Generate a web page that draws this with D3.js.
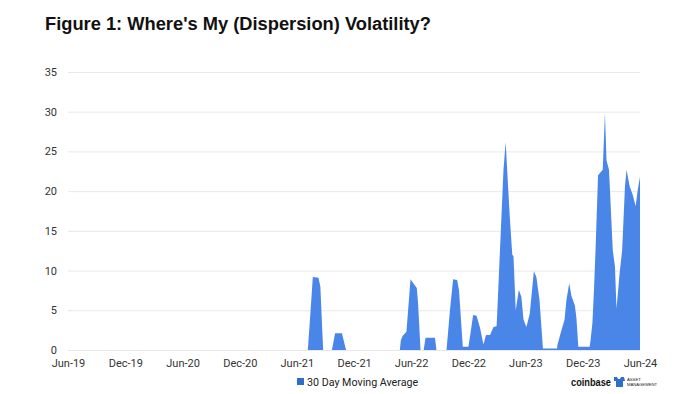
<!DOCTYPE html>
<html>
<head>
<meta charset="utf-8">
<script src="https://cdn.jsdelivr.net/npm/d3@7"></script>
<style>
  body { margin: 0; background: #fff; }
  svg { display: block; font-family: "Liberation Sans", Arial, sans-serif; }
</style>
</head>
<body>
<div id="chart"></div>
<script>
// 30 day moving average of dispersion volatility
const dates = [
  "2019-06-01", "2021-07-06", "2021-07-14", "2021-07-22", "2021-08-09", "2021-08-15", "2021-08-24",
  "2021-09-21", "2021-10-01", "2021-10-23", "2021-11-05",
  "2022-04-26", "2022-04-29", "2022-05-05", "2022-05-17", "2022-05-30", "2022-06-08", "2022-06-19",
  "2022-06-23", "2022-07-01", "2022-07-11", "2022-07-17", "2022-08-16", "2022-08-21",
  "2022-09-22", "2022-10-03", "2022-10-13", "2022-10-26", "2022-11-01", "2022-11-13", "2022-12-01",
  "2022-12-09", "2022-12-16", "2022-12-27", "2023-01-07", "2023-01-18", "2023-01-26", "2023-02-08",
  "2023-02-19", "2023-03-01", "2023-03-04", "2023-03-10", "2023-03-23", "2023-03-30", "2023-04-06",
  "2023-04-12", "2023-04-20", "2023-04-24", "2023-05-01", "2023-05-11", "2023-05-19", "2023-05-26",
  "2023-06-04", "2023-06-08", "2023-06-15", "2023-06-28", "2023-07-06", "2023-07-16", "2023-07-27",
  "2023-09-10", "2023-09-11", "2023-09-25", "2023-10-04", "2023-10-10", "2023-10-19", "2023-10-26",
  "2023-11-06", "2023-11-11", "2023-11-17", "2023-12-23", "2023-12-26", "2024-01-01", "2024-01-06",
  "2024-01-11", "2024-01-19", "2024-02-03", "2024-02-10", "2024-02-15", "2024-02-23", "2024-03-06",
  "2024-03-13", "2024-03-18", "2024-03-28", "2024-04-05", "2024-04-14", "2024-04-19", "2024-04-29",
  "2024-05-09", "2024-05-18", "2024-05-25", "2024-06-01"
];
const vol = [
  0, 0, 4.5, 9.2, 9.1, 8.0, 0,
  0, 2.1, 2.1, 0,
  0, 1.2, 1.8, 2.3, 8.9, 8.4, 7.8,
  6.0, 0, 0, 1.55, 1.55, 0,
  0, 5.0, 8.9, 8.8, 7.5, 0.4, 0.4,
  2.5, 4.4, 4.3, 2.8, 0.7, 1.9, 1.9,
  2.9, 3.0, 5.5, 11.0, 22.7, 26.2, 21.0,
  16.8, 12.0, 11.8, 5.0, 7.6, 6.7, 3.8,
  2.9, 3.5, 4.6, 9.9, 9.2, 6.3, 0.2,
  0.2, 0.6, 2.6, 3.8, 6.3, 8.4, 6.8,
  5.6, 4.0, 0.4, 0.4, 1.2, 3.4, 7.6,
  12.6, 22.0, 22.7, 29.8, 23.9, 22.7, 12.6,
  10.5, 5.2, 9.7, 12.6, 20.6, 22.7, 20.6,
  19.5, 18.1, 20.2, 21.8
];
const xTicks = ["2019-06-01", "2019-12-01", "2020-06-01", "2020-12-01", "2021-06-01", "2021-12-01",
  "2022-06-01", "2022-12-01", "2023-06-01", "2023-12-01", "2024-06-01"];
const yTicks = [0, 5, 10, 15, 20, 25, 30, 35];
const seriesName = "30 Day Moving Average";
const title = "Figure 1: Where's My (Dispersion) Volatility?";

const width = 700, height = 394;
const margin = { top: 72, right: 60, bottom: 44, left: 68 };
const parse = d3.timeParse("%Y-%m-%d");
const data = dates.map((d, i) => ({ date: parse(d), value: vol[i] }));

const svg = d3.select("#chart").append("svg")
  .attr("width", width)
  .attr("height", height);

const x = d3.scaleTime()
  .domain([parse(xTicks[0]), parse(xTicks[xTicks.length - 1])])
  .range([margin.left, width - margin.right]);
const y = d3.scaleLinear()
  .domain([0, 35])
  .range([height - margin.bottom, margin.top]);

svg.append("text")
  .attr("x", 45)
  .attr("y", 30)
  .attr("font-size", 18.3)
  .attr("font-weight", "bold")
  .attr("fill", "#111")
  .text(title);

// gridlines + y labels
const yAxis = svg.append("g")
  .attr("transform", `translate(${margin.left},0)`)
  .call(d3.axisLeft(y).tickValues(yTicks).tickSize(-(width - margin.left - margin.right)).tickPadding(11));
yAxis.select(".domain").remove();
yAxis.selectAll(".tick line").attr("stroke", "#e8e8e8");
yAxis.selectAll(".tick text")
  .attr("fill", "#333")
  .attr("font-size", 11)
  .attr("font-family", "Roboto, 'Liberation Sans', sans-serif");

// area
svg.append("path")
  .datum(data)
  .attr("fill", "#4a86e8")
  .attr("d", d3.area()
    .x((d) => x(d.date))
    .y0(y(0))
    .y1((d) => y(d.value)));

// x labels
const xAxis = svg.append("g")
  .attr("transform", `translate(0,${y(0)})`)
  .call(d3.axisBottom(x)
    .tickValues(xTicks.map(parse))
    .tickFormat(d3.timeFormat("%b-%y"))
    .tickSize(0)
    .tickPadding(9));
xAxis.select(".domain").remove();
xAxis.selectAll(".tick text")
  .attr("fill", "#333")
  .attr("font-size", 11)
  .attr("font-family", "Roboto, 'Liberation Sans', sans-serif");

// legend
const legend = svg.append("g").attr("transform", "translate(297,382)");
legend.append("rect")
  .attr("x", 0).attr("y", -4)
  .attr("width", 7).attr("height", 7)
  .attr("fill", "#2f6fc8");
legend.append("text")
  .attr("x", 10).attr("y", 0)
  .attr("dy", "0.35em")
  .attr("font-size", 10.7)
  .attr("fill", "#222")
  .attr("font-family", "Roboto, 'Liberation Sans', sans-serif")
  .text(seriesName);

// coinbase asset management mark
const logo = svg.append("g").attr("transform", "translate(571,382)");
logo.append("text")
  .attr("x", 0).attr("y", 0)
  .attr("dy", "0.35em")
  .attr("font-size", 10)
  .attr("font-weight", "bold")
  .attr("textLength", 40)
  .attr("lengthAdjust", "spacingAndGlyphs")
  .attr("fill", "#111")
  .text("coinbase");
logo.append("path")
  .attr("d", "M43,-5 L46,-5 L47,-3 L49,-3 L50,-5 L53,-5 L54,-1 L52,-1 L52,5 L45,5 L45,-1 L43,-1 Z")
  .attr("fill", "#2f6fc8");
logo.append("text")
  .attr("x", 56).attr("y", -1)
  .attr("font-size", 4.2)
  .attr("fill", "#222")
  .text("ASSET");
logo.append("text")
  .attr("x", 56).attr("y", 4)
  .attr("font-size", 4.2)
  .attr("fill", "#222")
  .text("MANAGEMENT");
</script>
</body>
</html>
